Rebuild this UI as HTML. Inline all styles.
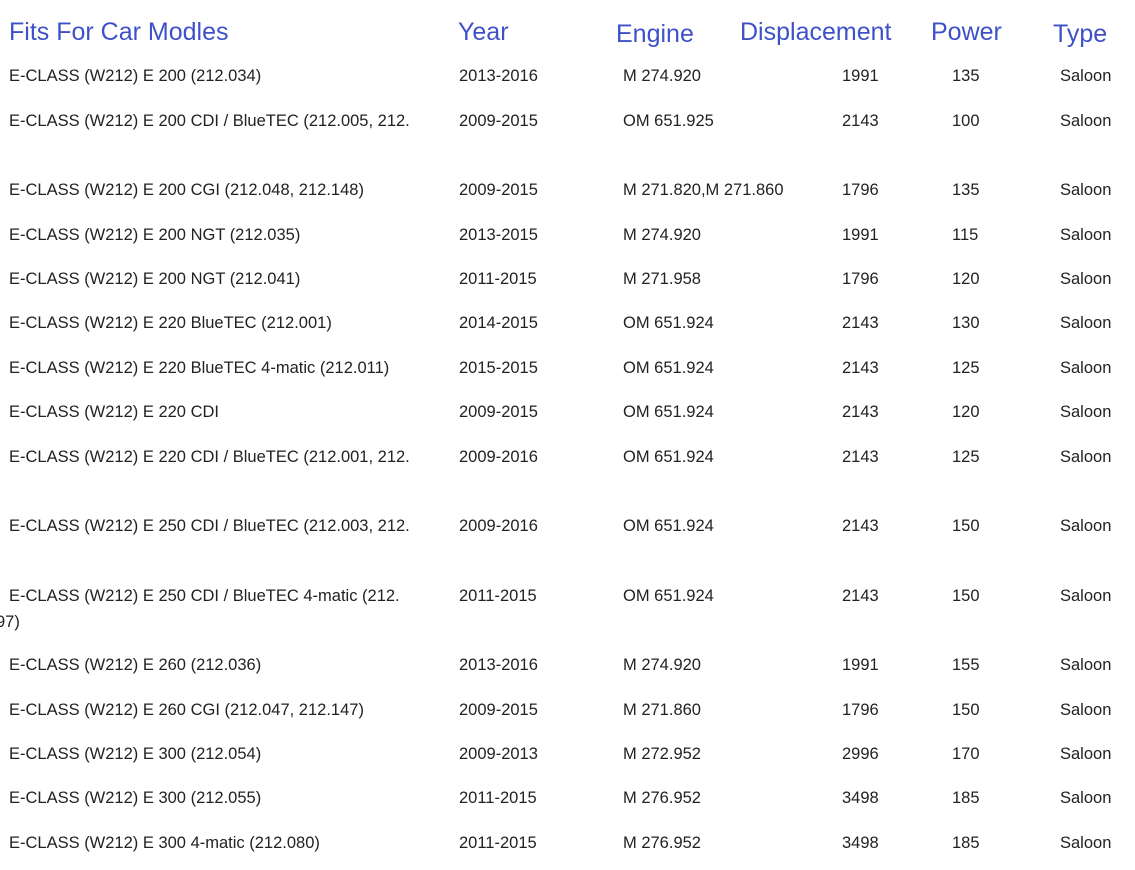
<!DOCTYPE html>
<html><head><meta charset="utf-8">
<style>
body{margin:0;width:1135px;height:870px;background:#fff;overflow:hidden;font-family:"Liberation Sans","DejaVu Sans",sans-serif;position:relative}
.h{position:absolute;color:#3f51c8;font-size:25px;line-height:30px;white-space:nowrap}
.c{position:absolute;color:#222;font-size:16.5px;line-height:20px;white-space:nowrap}
</style></head><body>
<div class="h" style="left:9px;top:17px">Fits For Car Modles</div>
<div class="h" style="left:458px;top:17px">Year</div>
<div class="h" style="left:616px;top:19px">Engine</div>
<div class="h" style="left:740px;top:17px">Displacement</div>
<div class="h" style="left:931px;top:17px">Power</div>
<div class="h" style="left:1053px;top:19px">Type</div>
<div id="rows"></div>
<div class="c" style="left:-4px;top:612px">97)</div>
<script>
const models=["E-CLASS (W212) E 200 (212.034)","E-CLASS (W212) E 200 CDI / BlueTEC (212.005, 212.","E-CLASS (W212) E 200 CGI (212.048, 212.148)","E-CLASS (W212) E 200 NGT (212.035)","E-CLASS (W212) E 200 NGT (212.041)","E-CLASS (W212) E 220 BlueTEC (212.001)","E-CLASS (W212) E 220 BlueTEC 4-matic (212.011)","E-CLASS (W212) E 220 CDI","E-CLASS (W212) E 220 CDI / BlueTEC (212.001, 212.","E-CLASS (W212) E 250 CDI / BlueTEC (212.003, 212.","E-CLASS (W212) E 250 CDI / BlueTEC 4-matic (212.","E-CLASS (W212) E 260 (212.036)","E-CLASS (W212) E 260 CGI (212.047, 212.147)","E-CLASS (W212) E 300 (212.054)","E-CLASS (W212) E 300 (212.055)","E-CLASS (W212) E 300 4-matic (212.080)"];
const years=["2013-2016","2009-2015","2009-2015","2013-2015","2011-2015","2014-2015","2015-2015","2009-2015","2009-2016","2009-2016","2011-2015","2013-2016","2009-2015","2009-2013","2011-2015","2011-2015"];
const engines=["M 274.920","OM 651.925","M 271.820,M 271.860","M 274.920","M 271.958","OM 651.924","OM 651.924","OM 651.924","OM 651.924","OM 651.924","OM 651.924","M 274.920","M 271.860","M 272.952","M 276.952","M 276.952"];
const disps=["1991","2143","1796","1991","1796","2143","2143","2143","2143","2143","2143","1991","1796","2996","3498","3498"];
const powers=["135","100","135","115","120","130","125","120","125","150","150","155","150","170","185","185"];
const types=["Saloon","Saloon","Saloon","Saloon","Saloon","Saloon","Saloon","Saloon","Saloon","Saloon","Saloon","Saloon","Saloon","Saloon","Saloon","Saloon"];
const rowY=[77,122,191,236,280,324,369,413,458,527,597,666,711,755,799,844];
const cols=[[9,models,'model'],[459,years,'year'],[623,engines,'engine'],[842,disps,'displacement'],[952,powers,'power'],[1060,types,'type']];
const root=document.getElementById('rows');
rowY.forEach((y,i)=>{
  cols.forEach(([x,arr,n])=>{
    const d=document.createElement('div');
    d.className='c';
    d.style.left=x+'px';d.style.top=(y-11)+'px';
    d.textContent=arr[i];
    
    
    root.appendChild(d);
  });
});
</script>
</body></html>
